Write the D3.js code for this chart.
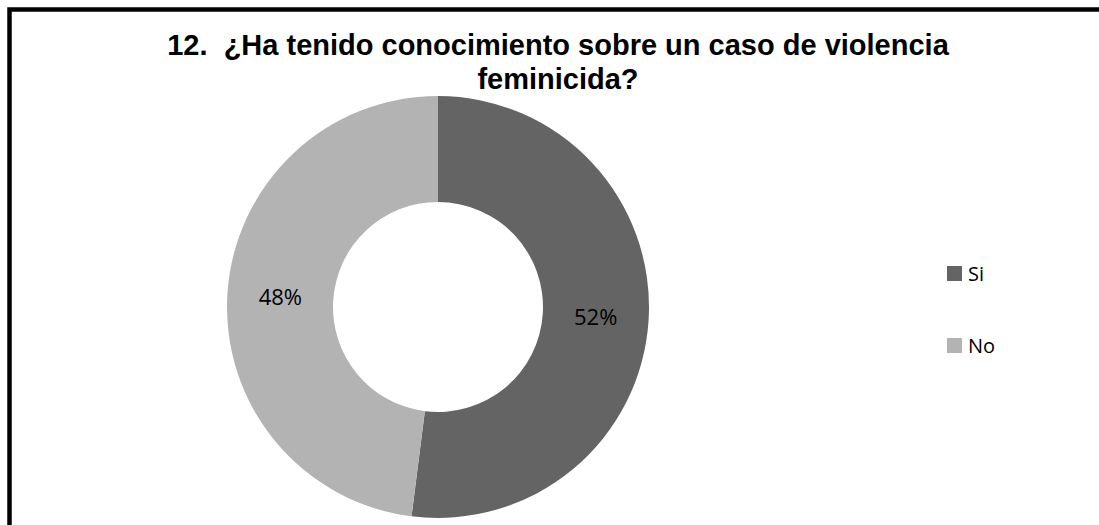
<!DOCTYPE html>
<html>
<head>
<meta charset="utf-8">
<script src="https://cdn.jsdelivr.net/npm/d3@7"></script>
<style>
  html, body { margin: 0; padding: 0; background: #fff; overflow: hidden; }
</style>
</head>
<body>
<svg id="chart" width="1099" height="525"></svg>
<script>
const categories = ["Si", "No"];
const values = [52, 48];
const colors = ["#646464", "#b3b3b3"];
const titleLines = ["12.  ¿Ha tenido conocimiento sobre un caso de violencia", "feminicida?"];

const width = 1099, height = 525;
const svg = d3.select("#chart");

// chart frame (right and bottom edges fall outside the picture)
svg.append("rect")
    .attr("x", 9.5).attr("y", 9.5)
    .attr("width", 1200).attr("height", 600)
    .attr("fill", "none")
    .attr("stroke", "#000")
    .attr("stroke-width", 4.5);

// title
svg.append("g")
    .selectAll("text")
    .data(titleLines)
    .join("text")
    .attr("x", 558)
    .attr("y", (d, i) => 55 + i * 34)
    .attr("text-anchor", "middle")
    .attr("font-family", "'Liberation Sans', Arial, sans-serif")
    .attr("font-weight", "bold")
    .attr("font-size", 29)
    .attr("fill", "#000")
    .style("white-space", "pre")
    .text(d => d);

const data = categories.map((c, i) => ({ name: c, value: values[i] }));
const color = d3.scaleOrdinal().domain(categories).range(colors);

const cx = 438, cy = 307, outer = 211, inner = 105;
const pie = d3.pie().sort(null).value(d => d.value);
const arc = d3.arc().innerRadius(inner).outerRadius(outer);
const arcs = pie(data);
const total = d3.sum(values);

let g = svg.append("g").attr("transform", `translate(${cx}, ${cy})`);
g.selectAll("path")
    .data(arcs)
    .join("path")
    .attr("d", arc)
    .attr("fill", d => color(d.data.name));

g.selectAll("text")
    .data(arcs)
    .join("text")
    .attr("transform", d => `translate(${arc.centroid(d)})`)
    .attr("dy", "0.36em")
    .attr("text-anchor", "middle")
    .attr("font-family", "'Open Sans', sans-serif")
    .attr("font-size", 22)
    .attr("fill", "#000")
    .text(d => Math.round(d.data.value / total * 100) + "%");

// legend
let legend = svg.append("g").attr("transform", "translate(947, 266)");
let item = legend.selectAll("g")
    .data(categories)
    .join("g")
    .attr("transform", (d, i) => `translate(0, ${i * 72})`);
item.append("rect")
    .attr("width", 15).attr("height", 15)
    .attr("fill", d => color(d));
item.append("text")
    .attr("x", 21)
    .attr("y", 15)
    .attr("font-family", "'Open Sans', sans-serif")
    .attr("font-size", 20)
    .attr("fill", "#000")
    .text(d => d);
</script>
</body>
</html>
